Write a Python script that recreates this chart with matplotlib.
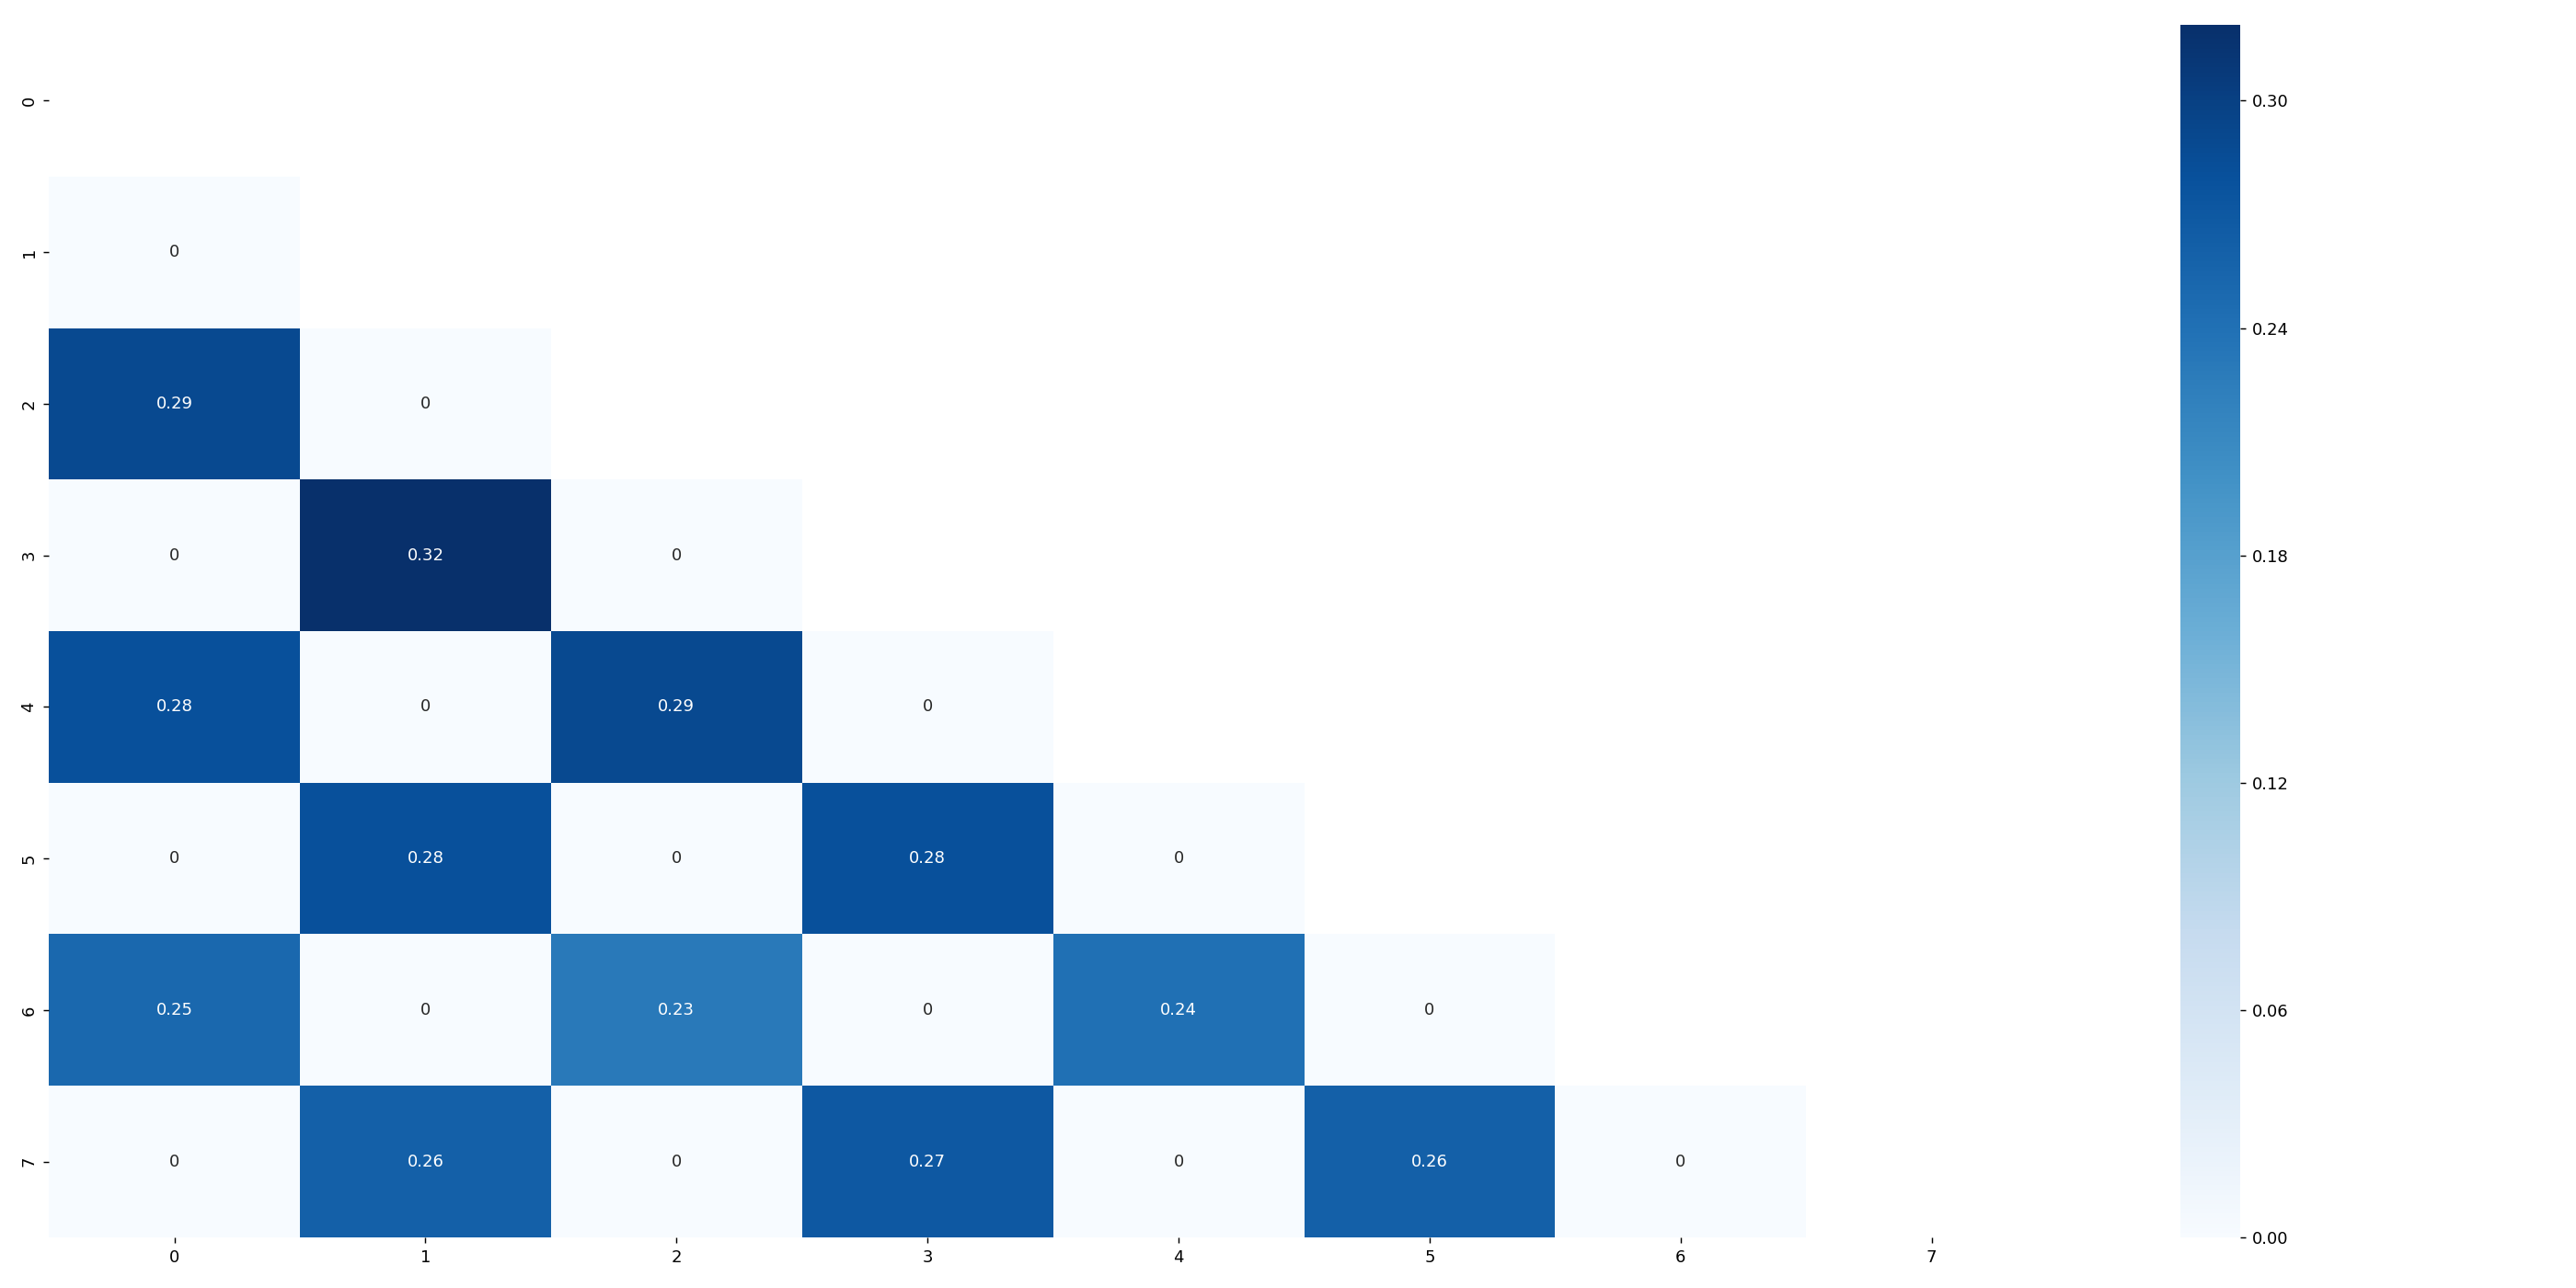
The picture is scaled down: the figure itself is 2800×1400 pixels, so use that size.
import numpy as np
import seaborn as sns
from matplotlib import pyplot as plt

# lower triangle of the matrix, row by row (diagonal and above are masked)
row_1 = [0]
row_2 = [0.29, 0]
row_3 = [0, 0.32, 0]
row_4 = [0.28, 0, 0.29, 0]
row_5 = [0, 0.28, 0, 0.28, 0]
row_6 = [0.25, 0, 0.23, 0, 0.24, 0]
row_7 = [0, 0.26, 0, 0.27, 0, 0.26, 0]
labels = [str(i) for i in range(8)]
cbar_ticks = [0.00, 0.06, 0.12, 0.18, 0.24, 0.30]


def build_matrix(rows, size):
    matrix = np.zeros((size, size))
    for i, row in enumerate(rows):
        matrix[i + 1, :len(row)] = row
    return matrix


def main():
    rows = [row_1, row_2, row_3, row_4, row_5, row_6, row_7]
    matrix = build_matrix(rows, len(labels))
    mask = np.triu(np.ones_like(matrix, dtype=bool))

    dpi = 130
    fig = plt.figure(figsize=(2800 / dpi, 1400 / dpi), dpi=dpi)
    ax = fig.add_axes([0.019, 0.0393, 0.7796, 0.9414])
    cax = fig.add_axes([0.8464, 0.0393, 0.0232, 0.9414])

    sns.heatmap(matrix, mask=mask, cmap='Blues', annot=True, ax=ax, cbar_ax=cax,
                vmin=0, vmax=0.32, xticklabels=labels, yticklabels=labels)

    ax.set_yticklabels(labels, rotation=90, va='center')
    cax.set_yticks(cbar_ticks)
    cax.set_yticklabels(['%.2f' % t for t in cbar_ticks])

    fig.savefig('out.png', dpi=dpi)


main()
